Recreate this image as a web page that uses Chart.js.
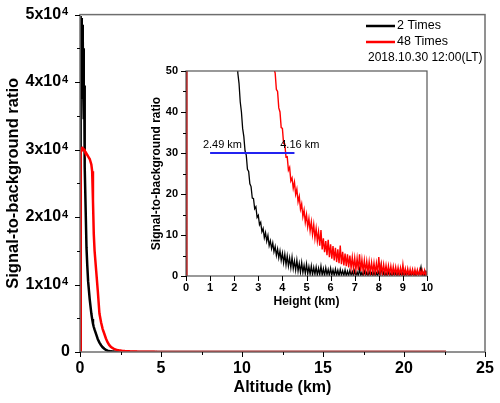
<!DOCTYPE html>
<html>
<head>
<meta charset="utf-8">
<script src="https://cdn.jsdelivr.net/npm/chart.js@4.4.0/dist/chart.umd.min.js"></script>
<style>
  html, body { margin: 0; padding: 0; background: #fff; }
  #wrap { position: relative; width: 500px; height: 403px; }
  #main { position: absolute; left: 0; top: 0; }
  #inset { position: absolute; left: 145px; top: 60px; }
</style>
</head>
<body>
<div id="wrap">
  <canvas id="main" width="500" height="403"></canvas>
  <canvas id="inset" width="295" height="250"></canvas>
</div>
<script>
// --- data ---
const seriesNames = ['2 Times', '48 Times'];
const seriesColors = ['#000000', '#ff0000'];
const stampText = '2018.10.30 12:00(LT)';

// near field (0 - 2 km), altitude in km
const nearKm = [0, 0.02, 0.04, 0.06, 0.08, 0.10, 0.12, 0.14, 0.16, 0.18, 0.20, 0.22, 0.24, 0.26, 0.28, 0.30,
  0.35, 0.40, 0.45, 0.50, 0.60, 0.70, 0.75, 0.80, 0.85, 0.90, 1.00, 1.10, 1.20, 1.30, 1.40, 1.50, 1.60, 1.70, 1.80, 1.90];
const nearBlack = [0, 47000, 36500, 49800, 39000, 49500, 41000, 48500, 37500, 46500,
  38500, 45000, 34500, 39500, 31000, 27500, 21000, 15500, 12800, 10500,
  7800, 5700, 4900, 4200, 3700, 3300, 2600, 1900, 1400, 1000,
  700, 480, 320, 210, 140, 95];
const nearRed = [0, 0, 28500, 29500, 29900, 30100, 30200, 30250, 30250, 30200,
  30150, 30100, 30050, 30000, 29900, 29800, 29600, 29400, 29200, 29000,
  28600, 27800, 26800, 22500, 17500, 15000, 12000, 9000, 5700, 4400,
  3400, 2700, 2000, 1450, 1050, 780];

// tail (2.00 - 10.00 km, sampled every 0.05 km)
const tailStart = 2.0, tailStep = 0.05;
const tailBlack = [
  68, 61, 57, 49.5, 47, 42.5, 40, 36, 34, 30.5,
  29.5, 26, 25.5, 22.5, 21.8, 19, 18.9, 16.4, 16.9, 14.3,
  14.8, 12.5, 13.1, 10.8, 11.6, 9.3, 10.6, 8.5, 9.9, 7.4,
  8.6, 6.7, 8.1, 5.9, 7.2, 5.0, 6.6, 4.4, 6.1, 3.8,
  5.6, 3.2, 5.3, 2.7, 4.9, 2.4, 4.4, 2.0, 4.6, 1.8,
  3.7, 1.4, 3.9, 1.2, 3.1, 0.9, 3.3, 0.8, 2.6, 0.6,
  2.9, 0.5, 2.3, 0.4, 2.5, 0.3, 2.1, 0.4, 2.2, 0.2,
  1.9, 0.3, 2.4, 0.2, 1.8, 0.1, 2.0, 0.3, 1.6, 0.1,
  1.9, 0.2, 1.5, 0.1, 1.7, 0.2, 1.4, 0.0, 1.6, 0.2,
  1.3, 0.1, 1.5, 0.0, 1.2, 0.1, 1.4, 0.2, 1.1, 0.0,
  1.3, 0.1, 1.0, 0.0, 1.8, 0.1, 0.9, 0.0, 1.2, 0.1,
  0.9, 0.0, 1.1, 0.1, 0.8, 0.0, 1.0, 0.1, 0.8, 0.0,
  1.1, 0.2, 2.6, 0.0, 0.9, 0.1, 0.8, 0.0, 1.0, 0.1,
  0.7, 0.0, 0.9, 0.1, 0.8, 0.0, 1.0, 0.1, 0.7, 0.0,
  0.9, 0.1, 0.8, 0.0, 1.0, 0.1, 0.7, 0.0, 0.9, 0.1,
  0.8, 0.0, 1.1, 0.1, 0.9, 2.2, 0.1, 0.8, 0.0, 1.0,
  0.2];
const tailRed = [
  600, 535, 478, 426, 380, 342, 308, 277, 250, 229,
  209, 191, 175, 162, 150, 140, 130, 122, 114, 107,
  100, 94, 89, 84, 80, 76, 72, 68, 64, 61,
  58, 55.5, 53, 50.5, 49.5, 45.5, 45, 41, 40, 36.2,
  36, 32.3, 32.2, 29, 29.1, 25.8, 26.5, 23.2, 23.9, 21.4,
  22.9, 19.9, 21.2, 18.1, 19.4, 16.3, 17.6, 14.5, 16.1, 13.1,
  15, 12, 14, 11, 13.2, 10.1, 12.5, 9.2, 11.6, 8.5,
  10.8, 7.4, 11.2, 6.5, 9.2, 5.8, 8.5, 5.1, 8.8, 4.6,
  7.7, 4.2, 7.3, 3.8, 6.9, 3.4, 6.5, 3.1, 7.4, 2.9,
  5.9, 2.6, 5.5, 2.4, 5.3, 2.1, 5.0, 1.9, 4.6, 1.7,
  4.4, 1.5, 4.3, 1.4, 5.3, 1.2, 4.0, 1.1, 3.8, 1.0,
  3.6, 0.9, 3.5, 0.8, 3.3, 0.8, 3.2, 0.7, 3.1, 0.6,
  4.6, 0.6, 2.9, 0.5, 2.8, 0.5, 2.6, 0.4, 2.5, 0.4,
  2.4, 0.3, 2.3, 0.3, 2.2, 0.3, 2.1, 0.2, 2.0, 0.2,
  2.8, 0.2, 1.8, 0.1, 1.8, 0.1, 1.7, 0.1, 1.6, 0.1,
  1.6, 0.1, 1.5, 0.1, 1.5, 0.1, 1.4, 0.1, 1.4, 0.0,
  1.3];

// far field, beyond the inset range
const farKm = [11, 13, 15, 17, 19, 21, 22.6];
const farBlack = [0.6, 0.4, 0.5, 0.3, 0.4, 0.3, 0.3];
const farRed = [1.1, 0.9, 0.8, 0.7, 0.7, 0.6, 0.6];

// 30 SNR threshold line and the heights where each curve crosses it
const thresholdSNR = 30;
const thresholdKm = [1.0, 4.5];
const crossKm = [2.49, 4.16];

// --- build point lists ---
function joinSeries(near, tail, far) {
  const pts = [];
  nearKm.forEach((k, i) => pts.push({ x: k, y: near[i] }));
  tail.forEach((v, i) => pts.push({ x: +(tailStart + i * tailStep).toFixed(2), y: v }));
  farKm.forEach((k, i) => pts.push({ x: k, y: far[i] }));
  return pts;
}
const blackPts = joinSeries(nearBlack, tailBlack, farBlack);
const redPts = joinSeries(nearRed, tailRed, farRed);

const FONT = "'Liberation Sans', Arial, sans-serif";
Chart.defaults.font.family = FONT;
Chart.defaults.color = '#000';

// frame + outward tick marks (major / minor)
function frameTicks(o) {
  return {
    id: 'frameTicks',
    afterDraw(chart) {
      const { ctx, chartArea: a, scales: { x, y } } = chart;
      ctx.save();
      ctx.strokeStyle = o.color;
      ctx.lineWidth = o.width;
      ctx.strokeRect(a.left, a.top, a.right - a.left, a.bottom - a.top);
      ctx.strokeStyle = '#000';
      ctx.lineWidth = 1;
      ctx.beginPath();
      for (let i = 0; x.min + i * o.xMinor <= x.max + 1e-9; i++) {
        const v = x.min + i * o.xMinor;
        const len = (i % o.xEvery === 0) ? o.major : o.minor;
        const px = Math.round(x.getPixelForValue(v)) + 0.5;
        ctx.moveTo(px, a.bottom);
        ctx.lineTo(px, a.bottom + len);
      }
      for (let i = 0; y.min + i * o.yMinor <= y.max + 1e-9; i++) {
        const v = y.min + i * o.yMinor;
        const len = (i % o.yEvery === 0) ? o.major : o.minor;
        const py = Math.round(y.getPixelForValue(v)) + 0.5;
        ctx.moveTo(a.left, py);
        ctx.lineTo(a.left - len, py);
      }
      ctx.stroke();
      ctx.restore();
    }
  };
}

// exponent "4" raised after the "Nx10" y labels
const exponentPlugin = {
  id: 'exponent',
  afterDraw(chart) {
    const { ctx, scales: { y } } = chart;
    ctx.save();
    ctx.font = 'bold 11px ' + FONT;
    ctx.fillStyle = '#000';
    ctx.textAlign = 'left';
    ctx.textBaseline = 'alphabetic';
    y.ticks.forEach(t => {
      if (t.value === 0) return;
      ctx.fillText('4', 62, y.getPixelForValue(t.value) + 0.5);
    });
    ctx.restore();
  }
};

const legendPlugin = {
  id: 'cornerLegend',
  afterDraw(chart) {
    const ctx = chart.ctx;
    ctx.save();
    ctx.font = '12.5px ' + FONT;
    ctx.textBaseline = 'middle';
    ctx.fillStyle = '#000';
    chart.data.datasets.forEach((ds, i) => {
      const yy = 26 + i * 16;
      ctx.strokeStyle = ds.borderColor;
      ctx.lineWidth = 2.5;
      ctx.beginPath();
      ctx.moveTo(366, yy);
      ctx.lineTo(395, yy);
      ctx.stroke();
      ctx.fillText(ds.label, 397, yy);
    });
    ctx.font = '12px ' + FONT;
    ctx.fillText(stampText, 368, 58);
    ctx.restore();
  }
};

const tickFontMain = { size: 16, weight: 'bold' };

new Chart(document.getElementById('main'), {
  type: 'line',
  data: {
    datasets: [
      { label: seriesNames[0], data: blackPts, borderColor: seriesColors[0], borderWidth: 2.5, order: 1 },
      { label: seriesNames[1], data: redPts, borderColor: seriesColors[1], borderWidth: 2.5, order: 0 }
    ]
  },
  options: {
    responsive: false,
    animation: false,
    layout: { padding: { top: 14, right: 15, left: 0, bottom: 0 } },
    elements: { point: { radius: 0 }, line: { tension: 0 } },
    plugins: { legend: { display: false }, tooltip: { enabled: false } },
    scales: {
      x: {
        type: 'linear', min: 0, max: 25,
        ticks: { stepSize: 5, font: tickFontMain, padding: 2, maxRotation: 0 },
        grid: { drawOnChartArea: false, color: 'transparent', tickLength: 5 },
        border: { display: false },
        title: { display: true, text: 'Altitude (km)', font: { size: 16, weight: 'bold' }, padding: { top: 0, bottom: 6 } },
        afterFit(s) { s.height = 51; }
      },
      y: {
        type: 'linear', min: 0, max: 50000,
        ticks: {
          stepSize: 10000, font: tickFontMain, padding: 5,
          // trailing spaces leave room for the raised exponent
          callback: v => v === 0 ? '0' : (v / 10000) + 'x10  '
        },
        grid: { drawOnChartArea: false, color: 'transparent', tickLength: 5 },
        border: { display: false },
        title: { display: true, text: 'Signal-to-background ratio', font: { size: 16.5, weight: 'bold' }, padding: { top: 4, bottom: 0 } },
        afterFit(s) { s.width = 80; }
      }
    }
  },
  plugins: [frameTicks({ color: '#6e6e6e', width: 1.5, xMinor: 2.5, xEvery: 2, yMinor: 5000, yEvery: 2, major: 5, minor: 3 }), exponentPlugin, legendPlugin]
});

// inset: threshold labels
const crossLabels = {
  id: 'crossLabels',
  afterDraw(chart) {
    const { ctx, scales: { x, y } } = chart;
    ctx.save();
    ctx.font = '11px ' + FONT;
    ctx.fillStyle = '#000';
    ctx.textBaseline = 'alphabetic';
    const py = y.getPixelForValue(thresholdSNR) - 5;
    ctx.textAlign = 'right';
    ctx.fillText(crossKm[0].toFixed(2) + ' km', x.getPixelForValue(crossKm[0]) - 4, py);
    ctx.textAlign = 'left';
    ctx.fillText(crossKm[1].toFixed(2) + ' km', x.getPixelForValue(crossKm[1]) - 6, py);
    ctx.restore();
  }
};

const tickFontInset = { size: 11, weight: 'bold' };

new Chart(document.getElementById('inset'), {
  type: 'line',
  data: {
    datasets: [
      { label: seriesNames[0], data: blackPts, borderColor: seriesColors[0], borderWidth: 1.3, order: 2 },
      { label: seriesNames[1], data: redPts, borderColor: seriesColors[1], borderWidth: 1.4, order: 1 },
      { label: 'threshold', data: thresholdKm.map(k => ({ x: k, y: thresholdSNR })), borderColor: '#2323f0', borderWidth: 2, order: 0 }
    ]
  },
  options: {
    responsive: false,
    animation: false,
    layout: { padding: { top: 11, right: 13, left: 0, bottom: 0 } },
    elements: { point: { radius: 0 }, line: { tension: 0 } },
    plugins: { legend: { display: false }, tooltip: { enabled: false } },
    scales: {
      x: {
        type: 'linear', min: 0, max: 10,
        ticks: { stepSize: 1, font: tickFontInset, padding: 0, maxRotation: 0 },
        grid: { drawOnChartArea: false, color: 'transparent', tickLength: 5 },
        border: { display: false },
        title: { display: true, text: 'Height (km)', font: { size: 12, weight: 'bold' }, padding: { top: 0, bottom: 1 } },
        afterFit(s) { s.height = 34; }
      },
      y: {
        type: 'linear', min: 0, max: 50,
        ticks: { stepSize: 10, font: tickFontInset, padding: 3 },
        grid: { drawOnChartArea: false, color: 'transparent', tickLength: 5 },
        border: { display: false },
        title: { display: true, text: 'Signal-to-background ratio', font: { size: 12, weight: 'bold' }, padding: { top: 4, bottom: 0 } },
        afterFit(s) { s.width = 41; }
      }
    }
  },
  plugins: [frameTicks({ color: '#555', width: 1.2, xMinor: 1, xEvery: 1, yMinor: 5, yEvery: 2, major: 5, minor: 3 }), crossLabels]
});
</script>
</body>
</html>
